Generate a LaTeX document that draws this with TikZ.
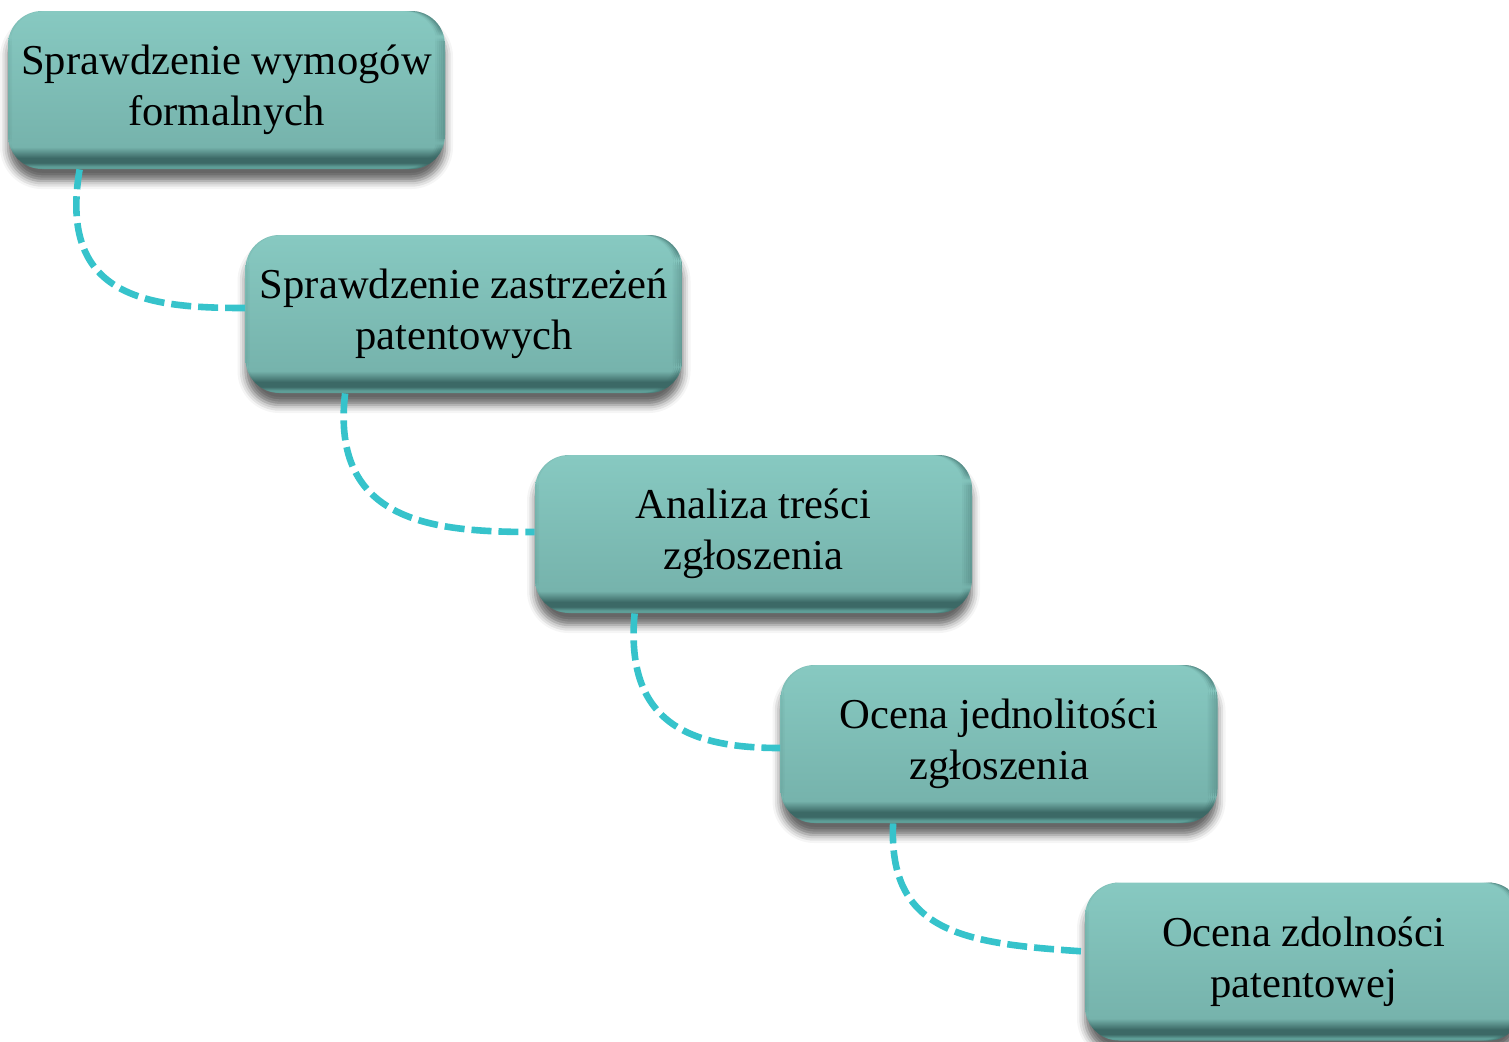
\documentclass[tikz,border=0pt]{standalone}
\usepackage{fontspec}
\setmainfont{Liberation Serif}
\usetikzlibrary{positioning,calc,shadows.blur}

\definecolor{tealface}{HTML}{87C9C1}
\definecolor{tealfacelow}{HTML}{76B3AC}
\definecolor{tealdark}{HTML}{3C6966}
\definecolor{tealrim}{HTML}{5E9E97}
\definecolor{linkcyan}{HTML}{36C3CB}

\pgfdeclareverticalshading{stagebody}{100bp}{color(0bp)=(tealrim); color(25bp)=(tealrim);
  color(25.8bp)=(tealrim); color(27bp)=(tealdark); color(28.5bp)=(tealdark);
  color(32bp)=(tealfacelow); color(75bp)=(tealface); color(100bp)=(tealface)}

\tikzset{
  stage/.style={rounded corners=17pt, minimum width=218.5pt, minimum height=79pt,
    inner sep=0pt, align=center, font=\fontsize{21.3}{25.5}\selectfont,
    shading=stagebody,
    blur shadow={shadow xshift=0pt, shadow yshift=-6pt, shadow blur radius=4pt, shadow opacity=60},
    path picture={
      \foreach \k in {1,...,5}
        \fill[tealdark, opacity=0.07*\k]
          ($(path picture bounding box.north east)+(-6pt+\k*1pt,0pt)$) rectangle
          ($(path picture bounding box.south east)+(-5pt+\k*1pt,0pt)$);
      \foreach \k in {1,...,3}
        \fill[tealdark, opacity=0.06*\k]
          ($(path picture bounding box.north west)+(3pt-\k*1pt,0pt)$) rectangle
          ($(path picture bounding box.south west)+(2pt-\k*1pt,0pt)$);
    }},
  link/.style={draw=linkcyan, line width=3.3pt, dash pattern=on 10pt off 3.5pt}
}

\begin{document}
\begin{tikzpicture}[x=0.5pt,y=-0.5pt]
  \useasboundingbox (0,0) rectangle (1509,1041);

  \node [stage] (formal) at (226.5,90) {Sprawdzenie wymogów\\formalnych};
  \node [stage] (claims) at (464,314) {Sprawdzenie zastrzeżeń\\patentowych};
  \node [stage] (content) at (753.5,534) {Analiza treści\\zgłoszenia};
  \node [stage] (unity) at (999,744) {Ocena jednolitości\\zgłoszenia};
  \node [stage] (ability) at (1303.5,961.5) {Ocena zdolności\\patentowej};

  % dashed links between the stages
  \draw [link] ([xshift=36pt]formal.south west)
    .. controls +(-22,130) and +(-95,0) .. ([yshift=3pt]claims.west);
  \draw [link] ([xshift=50pt]claims.south west)
    .. controls +(-15,130) and +(-100,0) .. ([yshift=1pt]content.west);
  \draw [link] ([xshift=50pt]content.south west)
    .. controls +(-10,110) and +(-90,0) .. ([yshift=-2pt]unity.west);
  \draw [link] ([xshift=56.5pt]unity.south west)
    .. controls +(-5,110) and +(-120,-8) .. ([yshift=5pt]ability.west);
\end{tikzpicture}
\end{document}
